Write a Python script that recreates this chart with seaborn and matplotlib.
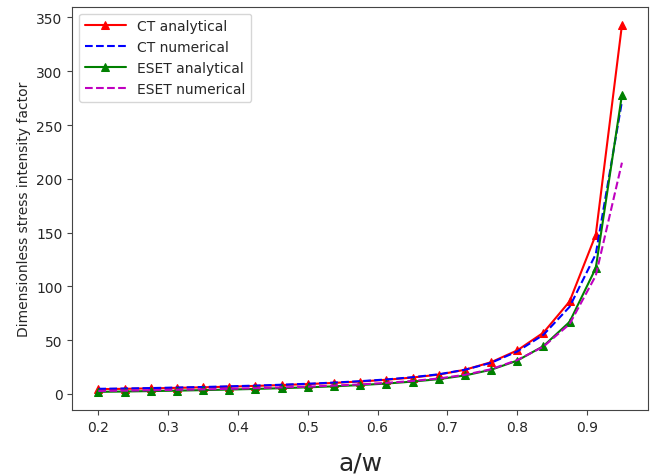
import matplotlib
matplotlib.use("Agg")
import matplotlib.pyplot as plt
import seaborn as sns
import pandas as pd

a_w = [0.2, 0.2375, 0.275, 0.3125, 0.35, 0.3875, 0.425, 0.4625, 0.5, 0.5375,
       0.575, 0.6125, 0.65, 0.6875, 0.725, 0.7625, 0.8, 0.8375, 0.875, 0.9125, 0.95]
ct_analytical = [4.5, 4.8, 5.2, 5.7, 6.2, 6.8, 7.5, 8.3, 9.2, 10.3,
                 11.6, 13.2, 15.3, 18.0, 22.5, 29.5, 40.5, 57.0, 86.0, 148.0, 343.0]
ct_numerical = [4.8, 5.1, 5.5, 6.0, 6.5, 7.1, 7.8, 8.6, 9.5, 10.6,
                11.9, 13.5, 15.6, 18.3, 22.5, 29.0, 39.5, 55.0, 81.0, 130.0, 272.0]
eset_analytical = [2.0, 2.3, 2.7, 3.1, 3.6, 4.1, 4.7, 5.4, 6.2, 7.1,
                   8.3, 9.7, 11.5, 13.8, 17.2, 22.5, 31.0, 44.5, 67.0, 117.0, 278.0]
eset_numerical = [2.8, 3.1, 3.5, 3.9, 4.3, 4.8, 5.4, 6.1, 6.8, 7.8,
                  8.9, 10.3, 12.1, 14.4, 17.8, 23.0, 31.5, 44.0, 65.0, 110.0, 215.0]

sns.set_style("ticks")
fig = plt.figure(figsize=(6.56, 4.77), dpi=100)
ax = fig.add_axes([0.11, 0.138, 0.878, 0.846])

df = pd.DataFrame({"a_w": a_w, "cta": ct_analytical, "ctn": ct_numerical,
                   "esa": eset_analytical, "esn": eset_numerical})

sns.lineplot(data=df, x="a_w", y="cta", ax=ax, color="red", marker="^",
             markersize=6, markeredgecolor="red", label="CT analytical", linewidth=1.5)
sns.lineplot(data=df, x="a_w", y="ctn", ax=ax, color="blue", linestyle="--",
             label="CT numerical", linewidth=1.5)
sns.lineplot(data=df, x="a_w", y="esa", ax=ax, color="green", marker="^",
             markersize=6, markeredgecolor="green", label="ESET analytical", linewidth=1.5)
sns.lineplot(data=df, x="a_w", y="esn", ax=ax, color="m", linestyle="--",
             label="ESET numerical", linewidth=1.5)

ax.set_xlabel("a/w", fontsize=18, labelpad=12)
ax.set_ylabel("Dimensionless stress intensity factor", fontsize=10)
ax.set_xticks([0.2, 0.3, 0.4, 0.5, 0.6, 0.7, 0.8, 0.9])
ax.set_yticks([0, 50, 100, 150, 200, 250, 300, 350])
ax.tick_params(labelsize=10, color="#444444")
for s in ax.spines.values():
    s.set_visible(True)
    s.set_color("#444444")
ax.legend(loc="upper left", fontsize=10, handlelength=3.0)

fig.savefig("out.png", dpi=100)
